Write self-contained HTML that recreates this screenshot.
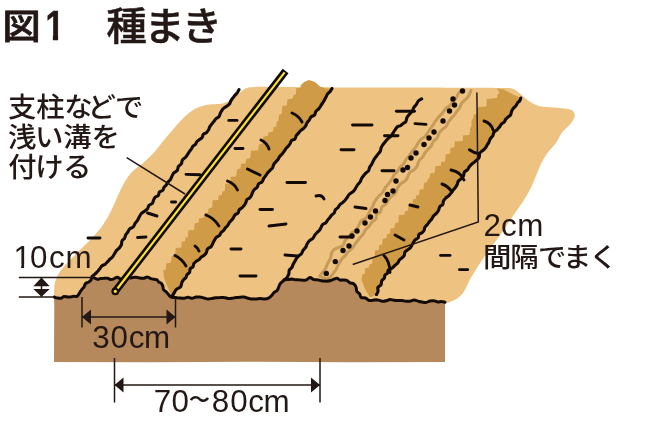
<!DOCTYPE html>
<html lang="ja">
<head>
<meta charset="utf-8">
<title>図1 種まき</title>
<style>
html,body{margin:0;padding:0;background:#fff;}
body{width:672px;height:444px;overflow:hidden;font-family:"Liberation Sans", "Noto Sans CJK JP", sans-serif;}
svg{display:block;will-change:transform;}
svg text{font-family:"Liberation Sans", "Noto Sans CJK JP", sans-serif;fill:#231815;}
</style>
</head>
<body>
<svg width="672" height="444" viewBox="0 0 672 444">
<defs><clipPath id="nf"><path clip-rule="evenodd" d="M0,0H672V444H0Z M45,34H52.9V41H45Z M58.1,34H65V41H58.1Z M14,264.6H21.2V269H14Z M24.1,264.6H30.5V269H24.1Z"/></clipPath></defs>
<path fill="#eec381" d="M243,90 C244.8,89.5 244.5,87.5 254,87 C263.5,86.5 275.7,87.1 300,87.2 C324.3,87.3 367.3,87.5 400,87.6 C432.7,87.7 477.3,87.8 496,88 C514.7,88.2 507.9,87.6 512,88.6 C516.1,89.6 517.6,91.9 520.4,94 C523.2,96.1 525.6,99 528.8,101 C531.9,103 534.8,104.9 539,106 C543.2,107.1 548.9,107 553.8,107.5 C558.6,108 564.7,108.3 568,109 C571.3,109.7 572.4,110.4 573.5,111.7 C574.6,113 575,115 574.5,117 C574,119 572.5,121.4 570.4,124 C568.3,126.6 564.4,129.3 562,132.5 C559.6,135.7 558.4,139.6 556,143 C553.6,146.4 549.8,149.8 547.5,153 C545.2,156.2 543.6,159 542,162 C540.4,165 539.7,167.1 538,171 C536.3,174.9 534.3,180.6 532,185.4 C529.7,190.2 526.8,195.5 524,200 C521.2,204.5 518.2,208.3 515.4,212.5 C512.6,216.7 509.9,220.7 507,225 C504.1,229.3 501.1,234 498,238.3 C494.9,242.6 491.5,246.6 488.5,250.8 C485.5,255 482.9,258.8 480,263.3 C477.1,267.8 473.4,273.5 470.8,278 C468.2,282.5 466.7,287.1 464.6,290.4 C462.5,293.7 460.7,295.8 458.3,297.7 C455.9,299.6 452.2,301.1 450,302 C447.8,302.9 445.7,302.8 444.8,303 L54,303 L54,298 C54,296.2 54.1,289.8 54.3,287 C54.5,284.2 54.6,283.3 55.4,281 C56.2,278.7 57.5,275.5 59,273 C60.5,270.5 62.2,268.7 64.5,266 C66.8,263.3 70,260.1 73,257 C76,253.9 79.3,250.7 82.5,247.5 C85.7,244.3 89.1,241.1 92,238 C94.9,234.9 97.7,232 100,229 C102.3,226 104.3,222.7 106,220 C107.7,217.3 108.3,216.3 110,213 C111.7,209.7 113.9,204.5 116,200 C118.1,195.5 120,190.5 122.5,186 C125,181.5 127.6,176.8 131,173 C134.4,169.2 139.2,166.4 143,163 C146.8,159.6 150.5,156.3 154,152.5 C157.5,148.7 161.3,143.2 164,140 C166.7,136.8 167.2,136.3 170,133 C172.8,129.7 177.2,124.2 181,120.4 C184.8,116.6 188.8,112.6 193,110 C197.2,107.4 201.1,106.1 206,105 C210.9,103.9 218.3,104.4 222.5,103.5 C226.7,102.6 227.6,101.8 231,99.6 C234.4,97.3 241,91.6 243,90 Z"/>
<path fill="#b5895c" d="M54.3,297 L61,297.7 L67.5,296.2 L73.8,297 L79,294.6 L82,289.4 L86,284 L90.4,280 L92.3,277.3 L97.3,278.8 L104,277.7 L110.7,279.7 L117.3,278 L125,279 L134,277.3 L140.7,278.8 L147.3,277.7 L154,279.3 L159,281.3 L162.3,286.3 L165.7,292 L170.7,296.7 L174.8,297.7 L184,298.3 L196,297.5 L208,298.5 L220,297.6 L232,298.6 L244,297.6 L256,298.6 L264,299.5 L271.5,296 L277,290.3 L280,283.8 L284.6,280 L292,279 L301.5,280.3 L310,278.3 L318.4,280 L327.8,281 L337,279 L346.5,281 L354,283.8 L356.8,291.3 L361.5,297 L369,299.7 L380,300.8 L390,300 L402,301.3 L414,300.6 L426,301.8 L438,301.2 L445,302.3 L445,362 L350,362.3 L250,361.8 L150,362.3 L54,362 Z"/>
<path fill="#cf9b47" d="M171.5,295.5 L167.3,286.3 L164,278 L163.2,270 L165.7,270 L166.3,263.5 L170.9,262.4 L171.7,256.2 L175.1,255.5 L175.7,247.9 L181.4,247.5 L181.7,241.8 L185.1,241.1 L185.4,237.8 L188,236.7 L188.2,230.3 L194.2,229.9 L194.5,223.5 L198.6,222.5 L198.9,218.6 L203.8,217.6 L204.6,213.3 L207.9,212.4 L208.7,208.4 L212.3,207.3 L212.6,200.3 L218.3,199.9 L218.5,195.7 L221.7,194.9 L222.3,191.7 L224.8,191.1 L225.2,184 L230.5,183.3 L230.7,176.8 L236.2,176.5 L236.9,169.4 L240.5,168.5 L241.1,163.8 L245.5,163.5 L246.3,159 L250.3,158.1 L251,150.8 L258.2,150.2 L258.9,144.4 L262.6,143.5 L263.3,136.8 L267.9,135.8 L268.3,132.4 L272.9,131.4 L273.6,126.9 L276.4,126.4 L276.7,121.5 L278.3,121.1 L279.1,114.4 L281.8,114 L282.3,105.9 L286.8,105.4 L287.4,99.3 L292.7,98.6 L293.5,95 L295.9,94.3 L296.2,88.3 L301.4,87.2 L300,86 L304,82 L309,80 L315,82 L320,86.5 L326,88.5 L332,88.5 L332,88.5 L321,106 L307,123 L288,146 L270,170 L255,190 L247.5,200 L237.5,212.5 L225,227.5 L215,240 L206,252.5 L196,261.3 L192.3,266.3 L187.3,274.7 L182.3,283 L177.3,289.7 L172.3,296.3 Z"/>
<path fill="#cf9b47" d="M370,297.5 L365.3,289.4 L361.5,280 L362.5,274 L364.7,274 L365.1,268.2 L369.1,267.2 L369.5,264.2 L372.1,263.8 L372.7,257.7 L374.6,257.1 L375,250.5 L378.8,250.1 L379,245.5 L382,244.4 L382.7,238.8 L386.4,237.9 L386.8,234.3 L390.1,233.5 L390.4,228.4 L394.5,228 L395.1,223.2 L398.5,222.2 L398.7,215.2 L404.6,214.5 L405.1,211.1 L408.1,210.7 L408.4,204.4 L412.7,203.4 L412.8,199.5 L415.8,198.8 L416,195.4 L419.1,194.4 L419.6,189.5 L423.6,189.2 L423.8,182.9 L427.2,181.9 L427.8,178.7 L429.4,178.3 L430.2,173.5 L434.5,173.1 L435.3,166.3 L440.9,165.5 L441.3,162.1 L445.3,161.3 L445.5,154.6 L450,153.6 L450.4,148 L454.5,146.9 L454.6,141.4 L462.7,140.9 L463,135.5 L469.4,134.9 L470,131.1 L470,130.1 L470.7,127 L471.4,126.3 L471.7,119.8 L473,119.1 L473.7,114.7 L477.4,114.1 L477.8,106.9 L486.4,106.4 L486.7,99.1 L496.8,98 L497.6,94.3 L499.1,93.5 L499.3,92.3 L498.9,91.7 L497,88.5 L503.8,89.5 L512,94 L520.8,98 L520.8,98 L516,105.4 L510,114.8 L501.7,124 L494.4,132.5 L489,142 L482,151 L476.7,159.6 L465,172.5 L452.5,190 L440,207 L427.5,225 L417.5,237.5 L407.5,250 L397.5,262.5 L388.7,270.6 L384,278 L378.4,287.5 L376.5,294.5 Z"/>
<path fill="none" stroke="#c69b5a" stroke-width="3" stroke-linecap="round" stroke-linejoin="round" d="M320,276 C320.4,275.4 321.5,273.5 322.4,272.4 C323.3,271.3 324.6,270.4 325.4,269.1 C326.1,267.9 326.4,266.3 326.9,265 C327.5,263.7 328.2,262.5 328.8,261.3 C329.5,260 330.3,258.9 330.8,257.6 C331.2,256.3 331,254.8 331.4,253.5 C331.9,252.3 332.3,251 333.4,250 C334.5,249 336.5,248.5 338.1,247.7 C339.7,247 341.7,246.6 342.9,245.5 C344,244.3 344.1,242.1 345,240.7 C345.9,239.4 347.4,238.5 348.4,237.2 C349.5,236 350.1,234.4 351.2,233.2 C352.4,232.1 354.2,231.6 355.5,230.4 C356.7,229.2 357.7,227.6 358.6,226.1 C359.5,224.5 359.8,222.4 361,221.1 C362.1,219.8 364.6,219.2 365.8,218.1 C367,216.9 367.5,215.6 368.3,214.3 C369,212.9 369.5,211.5 370.3,210.2 C371,208.9 372,207.7 372.7,206.4 C373.4,205 373.6,203.7 374.4,202.1 C375.3,200.5 376.6,198.5 378,196.9 C379.3,195.3 381.3,194.2 382.5,192.5 C383.8,190.9 384.4,188.9 385.6,187.2 C386.7,185.6 388.4,184 389.5,182.6 C390.6,181.2 391.3,180.2 392.1,178.8 C392.9,177.5 393.3,176 394.2,174.7 C395.1,173.5 396.5,172.6 397.4,171.3 C398.4,170.1 398.9,168.7 399.9,167.4 C400.9,166.2 402.5,165.2 403.5,163.9 C404.6,162.6 405.1,160.9 406,159.5 C407,158.1 408.2,157 409.2,155.7 C410.2,154.3 411,152.8 412,151.5 C413,150.2 414.3,149 415.3,147.7 C416.2,146.4 417,145 417.8,143.7 C418.7,142.4 419.4,140.9 420.5,139.7 C421.6,138.6 423.4,138 424.5,136.9 C425.7,135.8 426.5,134.4 427.4,133.1 C428.4,131.8 429.2,130.5 430.1,129.2 C431,127.9 431.9,126.7 432.8,125.3 C433.8,123.9 434.7,122.2 435.7,120.8 C436.8,119.3 437.9,118 439.1,116.6 C440.3,115.3 441.6,114.1 442.7,112.7 C443.8,111.4 444.6,109.7 445.9,108.4 C447.1,107.2 449.3,106.5 450.4,105.3 C451.5,104.1 451.7,102.4 452.6,101.3 C453.5,100.1 455.1,99.4 456.1,98.2 C457,97 457.2,95.3 458.1,94 C458.9,92.7 460.5,91.1 461,90.5"/>
<path fill="none" stroke="#c69b5a" stroke-width="3" stroke-linecap="round" stroke-linejoin="round" d="M329.6,278 C330.2,277.3 331.9,275.1 333.1,273.6 C334.2,272 335.3,270.6 336.3,268.9 C337.2,267.3 337.9,265.3 338.8,263.7 C339.8,262 340.9,260.2 342,258.8 C343.1,257.5 344.4,256.7 345.4,255.5 C346.4,254.4 347,252.9 348,251.7 C349.1,250.6 350.7,249.9 351.8,248.8 C352.9,247.6 353.6,246.2 354.5,245 C355.4,243.7 356.3,242.5 357.3,241.3 C358.2,240 359.1,238.8 360.1,237.6 C361.1,236.4 362.4,235.3 363.4,234 C364.3,232.6 364.7,230.8 365.7,229.5 C366.7,228.2 368.2,227.4 369.3,226.2 C370.3,224.9 370.9,223.3 372,222.1 C373,220.9 374.9,220.5 375.7,219.2 C376.5,217.9 376,215.8 376.8,214.5 C377.6,213.2 379.7,212.9 380.5,211.6 C381.4,210.4 380.9,208.3 381.8,207 C382.7,205.7 384.8,205.2 385.9,204 C387,202.8 387.5,201.1 388.5,199.8 C389.5,198.5 390.6,197.3 391.7,196.1 C392.9,195 394.6,194.3 395.5,192.9 C396.5,191.5 396.7,189.3 397.6,187.7 C398.5,186.2 399.6,184.8 401,183.6 C402.3,182.4 404.5,181.7 405.7,180.5 C406.8,179.3 407.2,177.7 407.9,176.3 C408.7,174.8 409.1,173.1 410.2,172 C411.3,170.8 413.3,170.4 414.5,169.3 C415.7,168.3 416.6,167 417.4,165.5 C418.1,164.1 418.1,162.1 419,160.8 C419.8,159.4 421.4,158.7 422.4,157.4 C423.3,156.1 423.8,154.5 424.8,153.1 C425.7,151.8 426.8,150.6 427.9,149.4 C429,148.2 430.4,147.2 431.3,145.9 C432.2,144.5 432.4,142.7 433.4,141.4 C434.4,140.1 436.2,139.4 437.1,138.1 C438,136.8 438.1,134.8 438.9,133.4 C439.7,132 440.8,130.7 442,129.6 C443.1,128.5 444.9,127.8 445.9,126.6 C446.9,125.4 447.3,123.7 448.2,122.4 C449,121 450.1,119.9 451.1,118.7 C452.1,117.4 453.3,116.4 454.3,115.1 C455.3,113.9 456.1,112.5 457,111.2 C458,109.9 459,108.8 459.8,107.4 C460.6,106 461,104.1 462,102.7 C463,101.4 464.7,100.5 465.9,99.2 C467.1,98 468.2,96.7 469,95.3 C469.9,93.8 470.7,91.3 471,90.5"/>
<path fill="none" stroke="#c69b5a" stroke-width="3" stroke-linecap="round" d="M320,276 Q324,279.5 329.6,278"/>
<g fill="#120a06"><circle cx="326.3" cy="273.4" r="2.7"/><circle cx="335.3" cy="261.6" r="2.7"/><circle cx="343" cy="250.5" r="2.7"/><circle cx="349" cy="246" r="2.7"/><circle cx="352" cy="236" r="2.7"/><circle cx="357" cy="231" r="2.7"/><circle cx="365" cy="223" r="2.7"/><circle cx="370.5" cy="217" r="2.7"/><circle cx="375.5" cy="211" r="2.7"/><circle cx="385" cy="200.5" r="2.7"/><circle cx="387.5" cy="194.5" r="2.7"/><circle cx="393" cy="191" r="2.7"/><circle cx="396" cy="181" r="2.7"/><circle cx="403" cy="170" r="2.7"/><circle cx="407.5" cy="167.5" r="2.7"/><circle cx="411" cy="158" r="2.7"/><circle cx="416" cy="153" r="2.7"/><circle cx="424" cy="144.5" r="2.7"/><circle cx="429" cy="138" r="2.7"/><circle cx="434" cy="132" r="2.7"/><circle cx="443" cy="121" r="2.7"/><circle cx="449.5" cy="111" r="2.7"/><circle cx="454.5" cy="105" r="2.7"/><circle cx="453" cy="99" r="2.7"/><circle cx="462.5" cy="91" r="2.7"/></g>
<path fill="none" stroke="#120a06" stroke-width="3.1" stroke-linecap="round" stroke-linejoin="round" d="M92.3,276.3 C92.8,275.9 94.2,274.8 95,274 C95.9,273.2 96.7,272.3 97.5,271.5 C98.3,270.6 99,269.7 99.8,268.8 C100.5,267.9 101,266.7 101.9,265.9 C102.8,265.2 104.2,264.9 105.2,264.2 C106.1,263.5 106.9,262.5 107.7,261.7 C108.5,260.9 109.1,260 109.9,259.2 C110.7,258.4 111.7,257.9 112.5,257 C113.3,256.1 113.9,254.7 114.6,253.5 C115.3,252.4 115.9,251.1 116.8,250.1 C117.7,249.1 119,248.3 119.8,247.4 C120.6,246.4 121.1,245.5 121.5,244.4 C121.8,243.3 121.5,241.9 122,240.9 C122.4,239.8 123.8,239.3 124.5,238.3 C125.1,237.3 125.2,235.9 125.7,234.8 C126.3,233.8 127.2,233 127.9,232 C128.5,231 128.8,229.7 129.7,228.9 C130.6,228.1 132.3,227.9 133.2,227 C134.1,226.1 134.3,224.7 135,223.6 C135.7,222.5 136.7,221.6 137.4,220.5 C138.1,219.5 138.5,218.3 139.2,217.1 C139.8,216 140.4,214.6 141.2,213.6 C142.1,212.7 143.4,212.1 144.5,211.3 C145.5,210.5 146.7,209.7 147.5,208.7 C148.3,207.8 148.2,206.3 149,205.4 C149.8,204.5 151.6,204.3 152.3,203.4 C153.1,202.5 153.1,200.9 153.6,199.9 C154.1,198.8 154.5,197.9 155.3,197.1 C156.1,196.4 157.6,196.2 158.3,195.4 C159,194.5 158.7,192.9 159.4,192.1 C160.1,191.3 161.8,191.3 162.6,190.5 C163.4,189.7 163.4,188.3 164,187.3 C164.6,186.4 165.6,185.7 166.3,184.9 C166.9,184 167.4,182.9 168.1,182 C168.8,181.1 169.7,180.6 170.4,179.6 C171,178.6 171.4,177.3 172,176.1 C172.6,175 173,173.8 173.9,172.8 C174.7,171.9 176.5,171.5 177.2,170.5 C178,169.5 177.7,167.9 178.3,166.7 C179,165.6 180.6,165 181.3,163.8 C182,162.7 181.7,161 182.5,159.9 C183.2,158.8 184.9,158.1 185.7,157.2 C186.6,156.3 187,155.4 187.6,154.4 C188.2,153.5 188.7,152.5 189.4,151.6 C190,150.7 190.8,149.9 191.4,149 C192,148 192.4,146.9 193.1,146.1 C193.8,145.3 194.9,145.1 195.5,144.3 C196.2,143.5 196.3,142.3 197,141.5 C197.7,140.7 198.7,140.2 199.6,139.5 C200.5,138.8 201.6,138.3 202.2,137.4 C202.8,136.5 202.7,135 203.5,134.2 C204.2,133.3 205.7,133.2 206.6,132.5 C207.4,131.8 208,130.8 208.6,129.8 C209.1,128.8 209.3,127.6 209.9,126.7 C210.4,125.7 211.1,124.8 211.8,124 C212.5,123.1 213.2,122.3 213.9,121.4 C214.6,120.6 215.1,119.5 216,118.7 C216.8,118 218.2,117.7 218.9,116.8 C219.7,115.9 219.7,114.6 220.2,113.5 C220.7,112.4 221.2,111.4 221.8,110.5 C222.5,109.5 223.2,108.7 224.1,107.9 C224.9,107.2 226.1,106.7 227.1,106 C228,105.4 228.9,104.7 229.6,103.8 C230.2,102.9 230.4,101.6 231,100.6 C231.6,99.6 232.3,98.7 233,97.8 C233.7,96.9 234.3,96 235.1,95.2 C235.8,94.3 236.7,93.5 237.4,92.6 C238,91.7 238.7,90.1 239,89.6"/>
<path fill="none" stroke="#120a06" stroke-width="3.1" stroke-linecap="round" stroke-linejoin="round" d="M172.3,296.3 C172.6,295.7 173.6,293.8 174.3,292.6 C175,291.4 175.6,290.1 176.6,289.2 C177.7,288.2 179.7,288 180.5,286.9 C181.4,285.8 181.4,283.8 181.8,282.7 C182.3,281.5 182.7,280.7 183.4,279.9 C184.1,279 185.3,278.5 185.9,277.6 C186.5,276.7 186.4,275.4 187.1,274.6 C187.7,273.7 189,273.2 189.6,272.3 C190.1,271.3 189.6,269.8 190.2,268.9 C190.8,267.9 192.4,267.6 193,266.8 C193.6,265.9 193.4,264.5 193.9,263.6 C194.4,262.7 195.3,262.1 196.1,261.4 C197,260.8 198.2,260.4 199,259.7 C199.9,259 200.4,257.9 201.2,257.2 C202.1,256.4 203.2,256 204,255.3 C204.8,254.5 205.7,253.8 206.3,252.7 C206.9,251.7 206.8,249.9 207.6,248.9 C208.4,247.9 210.2,247.6 211.1,246.7 C211.9,245.7 212.3,244.4 212.9,243.2 C213.5,242.1 214.1,240.8 214.7,239.8 C215.3,238.8 215.8,237.9 216.6,237.2 C217.4,236.4 218.7,236.2 219.5,235.4 C220.3,234.6 220.4,233.4 221.1,232.6 C221.8,231.8 222.9,231.3 223.6,230.5 C224.3,229.7 224.7,228.6 225.4,227.8 C226.1,227 227.1,226.4 227.7,225.5 C228.4,224.7 228.6,223.5 229.3,222.6 C229.9,221.7 230.8,221.1 231.5,220.2 C232.2,219.4 232.9,218.5 233.5,217.6 C234.1,216.7 234.3,215.5 235.1,214.7 C235.9,214 237.4,213.8 238.1,213 C238.8,212.2 238.6,210.7 239.2,209.8 C239.9,208.9 241.1,208.5 241.9,207.8 C242.7,207.1 243.5,206.4 244.1,205.5 C244.8,204.7 245.2,203.7 245.7,202.7 C246.2,201.7 246.3,200.4 247,199.6 C247.7,198.8 249.1,198.6 249.8,197.9 C250.6,197.1 251,196.1 251.5,195.2 C252,194.2 252.2,193.1 252.7,192.2 C253.1,191.2 253.6,190.3 254.4,189.5 C255.1,188.7 256.5,188.1 257.2,187.2 C257.9,186.2 257.8,184.7 258.6,183.8 C259.4,182.9 261.2,182.8 262,181.9 C262.9,181 263,179.6 263.6,178.6 C264.2,177.6 265,176.7 265.7,175.7 C266.4,174.8 267,173.7 267.7,172.8 C268.5,171.8 269.4,171 270.2,170.2 C271,169.3 272,168.7 272.6,167.8 C273.2,166.8 273.2,165.4 273.7,164.5 C274.3,163.5 275.1,162.7 275.8,161.9 C276.6,161 277.5,160.3 278.1,159.4 C278.8,158.5 279,157.3 279.7,156.4 C280.4,155.6 281.4,154.9 282.1,154.1 C282.9,153.3 283.4,152.3 284.1,151.4 C284.7,150.5 285.2,149.5 285.9,148.6 C286.6,147.7 287.5,147 288.2,146.2 C289,145.3 289.6,144.4 290.2,143.5 C290.7,142.5 290.8,141.2 291.7,140.4 C292.5,139.7 294.3,139.7 295,138.9 C295.8,138.1 295.7,136.6 296.2,135.6 C296.8,134.7 297.7,134 298.5,133.1 C299.2,132.3 299.7,131.3 300.5,130.6 C301.4,129.8 302.5,129.4 303.4,128.6 C304.2,127.9 304.9,127 305.5,126.1 C306.1,125.1 306.4,124 307,123 C307.6,122 308.5,121.1 309.2,120.1 C309.9,119 310.2,117.7 311.1,116.9 C312,116 313.8,115.9 314.5,115 C315.3,114 315.2,112.3 315.9,111.3 C316.6,110.3 317.9,109.8 318.7,108.9 C319.5,108 320.1,106.8 320.8,105.8 C321.4,104.8 322,103.9 322.6,102.9 C323.2,102 323.9,101 324.4,100 C325,99 325.5,98 326,97 C326.6,95.9 326.9,94.8 327.6,93.9 C328.3,93 329.5,92.3 330.2,91.5 C330.9,90.6 331.7,89 332,88.5"/>
<path fill="none" stroke="#120a06" stroke-width="3.1" stroke-linecap="round" stroke-linejoin="round" d="M284.6,280 C285,279.5 286.4,278.3 287.1,277.3 C287.8,276.3 288.4,275.3 288.8,274.1 C289.2,272.9 288.8,271.3 289.3,270.2 C289.8,269.1 291.2,268.5 291.8,267.5 C292.5,266.5 292.7,265.2 293.2,264.1 C293.8,263.1 294.5,262 295,261 C295.6,260 296,259 296.7,258.1 C297.3,257.3 298.1,256.5 298.9,255.8 C299.7,255.1 300.7,254.6 301.4,253.7 C302.1,252.8 302.5,251.3 303.2,250.2 C304,249.1 305.1,248.3 305.8,247.2 C306.4,246.1 306.6,244.6 307.3,243.5 C308,242.4 308.8,241.4 309.7,240.5 C310.7,239.7 312.1,239.2 313,238.2 C313.8,237.3 314.2,235.9 314.9,234.9 C315.6,234 316.3,233.3 317.1,232.5 C317.9,231.7 318.8,231.1 319.5,230.3 C320.1,229.4 320.5,228.3 321.1,227.3 C321.6,226.4 321.9,225.2 322.7,224.5 C323.5,223.7 325,223.6 325.8,222.8 C326.6,222.1 327,221 327.6,220.1 C328.3,219.2 329,218.5 329.7,217.7 C330.4,216.8 330.9,215.9 331.7,215.1 C332.4,214.4 333.6,213.9 334.2,213 C334.8,212.1 334.7,210.7 335.3,209.8 C335.9,209 337.1,208.6 337.8,207.8 C338.6,207 339,205.7 339.8,204.8 C340.6,204 341.7,203.4 342.6,202.6 C343.5,201.8 344.4,201.1 345.2,200.2 C346,199.3 346.6,198.2 347.3,197.3 C347.9,196.3 348.3,195.3 349.1,194.5 C349.9,193.7 350.9,193.2 351.8,192.5 C352.7,191.8 353.6,191.1 354.3,190.2 C355,189.4 355.5,188.3 356.1,187.3 C356.7,186.3 357.2,185.3 357.9,184.4 C358.6,183.5 359.6,182.8 360.2,181.8 C360.8,180.8 361,179.6 361.5,178.6 C362.1,177.5 362.8,176.7 363.5,175.8 C364.2,174.9 364.9,174 365.7,173.1 C366.6,172.3 367.8,171.8 368.5,170.9 C369.1,169.9 369.1,168.5 369.6,167.5 C370,166.4 370.8,165.6 371.4,164.6 C372,163.7 372.4,162.8 372.9,161.8 C373.4,160.8 373.8,159.8 374.4,158.9 C375,158 375.7,157.1 376.4,156.2 C377,155.4 377.7,154.5 378.4,153.6 C379.1,152.8 379.9,152 380.4,151 C380.8,150 380.8,148.7 381.2,147.7 C381.6,146.7 382.1,145.9 382.8,144.9 C383.5,143.9 384.4,142.8 385.2,141.8 C386,140.7 386.7,139.7 387.7,138.8 C388.6,137.9 389.9,137.3 390.8,136.3 C391.7,135.4 392.3,134.2 393,133.1 C393.7,132 394.3,130.9 395.1,129.9 C395.8,128.8 396.5,127.4 397.4,126.7 C398.3,126 399.7,126.1 400.7,125.6 C401.6,125.1 402.2,124.2 403.1,123.5 C403.9,122.8 405.1,122.6 405.8,121.6 C406.4,120.5 406.5,118.5 407.1,117.3 C407.8,116 409,114.9 409.9,113.8 C410.7,112.8 411.7,112 412.4,110.9 C413.1,109.8 413.2,108.4 413.9,107.4 C414.5,106.3 415.6,105.6 416.3,104.5 C417,103.5 417.4,101.9 418.3,101 C419.2,100.1 421.1,99.2 421.7,98.9"/>
<path fill="none" stroke="#120a06" stroke-width="3.1" stroke-linecap="round" stroke-linejoin="round" d="M376.5,294.5 C376.8,293.9 377.8,292.4 378,291.2 C378.3,290 377.4,288.3 377.9,287.3 C378.4,286.2 380.4,285.9 381,284.8 C381.7,283.7 381.1,282 381.7,280.9 C382.2,279.8 383.7,279.1 384.3,278.2 C384.8,277.2 384.4,275.9 384.9,275.1 C385.5,274.3 387,274.1 387.5,273.3 C388.1,272.5 387.5,271 388.2,270.2 C389,269.3 390.8,269 391.9,268.2 C393,267.4 393.8,266.4 394.8,265.5 C395.8,264.6 397.1,263.8 397.8,262.8 C398.6,261.9 398.7,260.8 399.4,259.9 C400.1,259.1 401.2,258.6 402,257.9 C402.8,257.2 403.7,256.5 404.2,255.5 C404.7,254.6 404.4,253 405,252.1 C405.5,251.1 406.7,250.7 407.5,250 C408.4,249.3 409.4,248.8 410.1,248 C410.9,247.2 411.3,246.2 411.8,245.3 C412.4,244.3 412.9,243.4 413.4,242.4 C414,241.5 414.4,240.5 415.2,239.8 C416,239 417.5,238.9 418.1,238 C418.8,237.1 418.3,235.4 418.9,234.5 C419.5,233.7 421,233.5 421.9,232.8 C422.7,232.1 423.5,231.3 424,230.4 C424.5,229.4 424.5,228 425,227.1 C425.6,226.2 426.5,225.7 427.2,224.8 C428,223.9 428.5,222.8 429.3,221.8 C430,220.8 431,220 431.7,219 C432.4,218.1 432.8,216.8 433.6,215.9 C434.3,214.9 435.6,214.3 436.4,213.4 C437.2,212.5 438,211.5 438.5,210.4 C439.1,209.3 439,207.8 439.7,206.8 C440.4,205.8 442,205.6 442.7,204.6 C443.3,203.6 443,202 443.5,200.9 C444,199.8 444.8,198.9 445.7,198.1 C446.5,197.2 447.7,196.7 448.6,195.8 C449.4,195 450.1,194.1 450.9,193.2 C451.6,192.2 452.2,191.3 453,190.3 C453.7,189.4 454.6,188.6 455.3,187.6 C456,186.6 456.7,185.6 457.2,184.5 C457.7,183.4 457.7,182 458.4,181 C459.1,180 460.3,179.4 461.2,178.6 C462,177.7 463,177 463.5,175.9 C464.1,174.8 463.8,173 464.4,172 C465.1,171.1 466.5,170.8 467.3,169.9 C468.1,169.1 468.5,167.9 469.2,166.9 C469.9,166 470.7,165.1 471.5,164.3 C472.4,163.5 473.4,162.9 474.3,162.2 C475.2,161.4 476.1,160.6 476.9,159.8 C477.8,159 478.7,158.2 479.2,157.2 C479.6,156.1 479.2,154.5 479.7,153.5 C480.1,152.5 481.1,151.8 482,151 C482.9,150.2 484.2,149.5 485,148.5 C485.9,147.6 486.4,146.4 487,145.3 C487.7,144.2 488.5,143.1 489,142 C489.6,140.9 489.8,139.6 490.4,138.6 C491,137.6 492.2,136.8 492.8,135.8 C493.4,134.7 493.3,133.2 494,132.3 C494.8,131.3 496.1,130.7 497,129.8 C497.9,129 498.7,128 499.5,127 C500.2,126 500.8,124.7 501.6,123.9 C502.3,123 503.5,122.8 504.2,122.1 C504.9,121.3 505.1,120.1 505.7,119.3 C506.3,118.5 507.1,117.8 507.9,117.1 C508.7,116.4 509.9,116.1 510.5,115.2 C511.1,114.2 511.1,112.6 511.6,111.4 C512.1,110.3 512.8,109.2 513.5,108.2 C514.3,107.2 515.4,106.4 516.1,105.5 C516.8,104.6 516.9,103.6 517.5,102.9 C518.1,102.1 519.2,101.6 519.8,100.8 C520.3,100 520.6,98.5 520.8,98"/>
<path fill="none" stroke="#120a06" stroke-width="3.0" stroke-linecap="round" stroke-linejoin="round" d="M54.3,297 C54.8,297.2 56.5,297.9 57.6,298.1 C58.7,298.3 59.9,298.5 61,298.3 C62.1,298 63.1,296.7 64.1,296.5 C65.2,296.3 66.5,296.8 67.5,296.9 C68.6,296.9 69.6,297 70.6,296.9 C71.6,296.7 72.6,296.3 73.6,296.2 C74.7,296.2 75.8,296.8 76.7,296.5 C77.5,296.2 78.1,295.1 78.7,294.3 C79.3,293.5 79.7,292.7 80.2,291.8 C80.7,291 81.2,290.2 81.9,289.3 C82.5,288.5 83.5,287.7 84.1,286.8 C84.7,285.8 84.8,284.3 85.5,283.6 C86.2,282.8 87.5,282.8 88.4,282.2 C89.3,281.7 90.2,281.2 90.8,280.4 C91.5,279.6 91.2,277.5 92.3,277.3 C93.4,277.1 95.8,279.1 97.2,279.3 C98.6,279.5 99.6,278.6 100.7,278.5 C101.8,278.3 102.8,278.3 104,278.3 C105.1,278.2 106.4,278 107.5,278.2 C108.6,278.4 109.6,279.4 110.7,279.5 C111.8,279.6 112.9,279.2 114,278.8 C115.1,278.4 116.1,277.2 117.3,277.3 C118.4,277.4 119.8,279 121,279.3 C122.3,279.6 123.9,279.5 125,279.2 C126.1,279 126.9,278 127.9,277.8 C128.9,277.6 130,278.1 131,278 C132,277.9 132.9,277.2 134,277.2 C135.1,277.1 136.3,277.4 137.5,277.5 C138.6,277.7 139.6,278.1 140.7,278.2 C141.8,278.3 142.9,278.4 144,278.2 C145.1,278 146.2,276.9 147.3,277 C148.4,277 149.5,278.2 150.6,278.6 C151.7,279 153,279.1 154,279.3 C155,279.5 156,279.3 156.7,279.7 C157.5,280.1 157.8,281.2 158.6,281.8 C159.3,282.4 160.6,282.7 161.3,283.4 C162,284.1 162.4,285 162.8,286 C163.1,287 163,288.5 163.5,289.4 C164.1,290.4 165.3,290.9 166.1,291.7 C166.9,292.5 167.5,293.4 168.3,294.3 C169.1,295.1 169.6,296.2 170.7,296.8 C171.7,297.3 173.6,297.4 174.8,297.6 C176,297.8 176.8,297.8 177.9,297.9 C178.9,298 179.9,298 180.9,298.1 C182,298.2 182.8,298.4 184,298.3 C185.2,298.1 186.6,297.3 187.9,297.3 C189.3,297.3 190.7,298.3 192,298.3 C193.4,298.3 194.7,297.3 196,297.1 C197.3,296.9 198.7,296.9 200.1,297.1 C201.4,297.2 202.7,297.7 204,298 C205.3,298.3 206.7,299 208,299 C209.3,299.1 210.7,298.6 212,298.4 C213.3,298.2 214.7,298 216,297.8 C217.3,297.7 218.7,297.6 220,297.6 C221.3,297.5 222.7,297.3 224,297.5 C225.4,297.6 226.7,298.3 228,298.5 C229.3,298.6 230.7,298.5 232,298.3 C233.3,298.2 234.6,297.7 235.9,297.5 C237.3,297.4 238.6,297.4 239.9,297.3 C241.3,297.2 242.7,296.8 244,296.9 C245.3,297.1 246.6,297.9 248,298.2 C249.3,298.6 250.6,298.8 251.9,298.9 C253.3,299 254.6,299.1 256,299 C257.3,299 258.7,298.6 260.1,298.6 C261.4,298.6 262.6,298.9 263.9,298.9 C265.2,298.9 266.8,299 268.1,298.4 C269.3,297.9 270.4,296.8 271.4,295.8 C272.3,294.9 272.9,293.7 273.8,292.8 C274.8,291.8 276.3,291.3 277.1,290.4 C277.9,289.4 278.2,288.2 278.7,287.1 C279.2,286 279.5,284.7 280.1,283.8 C280.6,283 281.5,282.5 282.2,281.8 C283,281.1 283.5,280.1 284.5,279.7 C285.5,279.3 287,279.6 288.3,279.5 C289.6,279.4 290.9,278.9 292,278.9 C293.1,279 294.1,279.6 295.1,279.7 C296.2,279.9 297.3,279.7 298.3,279.8 C299.4,279.8 300.2,280 301.5,280.1 C302.7,280.1 304.5,280.5 305.9,280.1 C307.4,279.7 308.6,277.7 310,277.6 C311.4,277.6 312.7,279.2 314.1,279.6 C315.5,279.9 317.2,279.6 318.4,279.9 C319.6,280.1 320.4,280.7 321.5,280.8 C322.5,281 323.6,281 324.6,281 C325.7,281.1 326.8,281.2 327.8,281.1 C328.9,281 329.9,280.8 330.9,280.5 C331.9,280.2 332.8,279.6 333.8,279.2 C334.9,278.8 336,278 337,278.2 C338,278.3 339,279.8 340.1,280.1 C341.1,280.4 342.3,279.9 343.4,279.9 C344.5,280 345.6,279.9 346.7,280.4 C347.8,280.9 348.9,282.3 350.1,282.9 C351.3,283.5 352.9,283.2 353.9,283.9 C354.9,284.6 355.7,286 356.1,287.3 C356.6,288.5 356.2,290.2 356.8,291.3 C357.3,292.4 358.9,292.8 359.6,293.8 C360.3,294.8 360.2,296.8 361.1,297.5 C362.1,298.2 364.1,297.5 365.4,298 C366.7,298.5 367.6,300 368.8,300.4 C370,300.8 371.4,300.4 372.6,300.3 C373.9,300.1 375.2,299.7 376.4,299.7 C377.6,299.8 378.8,300.4 380,300.6 C381.2,300.9 382.3,301.3 383.4,301.3 C384.5,301.3 385.6,300.9 386.7,300.6 C387.8,300.3 388.8,299.5 390,299.4 C391.2,299.3 392.7,300 394,300.2 C395.4,300.4 396.7,300.4 398,300.5 C399.4,300.6 400.7,300.5 402,300.6 C403.3,300.7 404.7,301.1 406,301.2 C407.3,301.3 408.7,301.3 410,301.2 C411.4,301 412.7,300.1 414,300.1 C415.3,300.1 416.7,300.8 418,301.1 C419.3,301.4 420.6,301.8 421.9,302 C423.3,302.2 424.6,302.6 426,302.5 C427.3,302.3 428.6,301.3 430,301 C431.3,300.7 432.6,300.5 434,300.7 C435.3,300.8 436.7,301.8 438,301.9 C439.2,302 440.4,301.4 441.5,301.5 C442.7,301.5 444.4,302.2 445,302.3"/>
<path fill="none" stroke="#120a06" stroke-width="2.9" stroke-linecap="round" d="M228.8,120.4 L237,120.4"/>
<path fill="none" stroke="#120a06" stroke-width="2.9" stroke-linecap="round" d="M235,148.5 L243,148.5"/>
<path fill="none" stroke="#120a06" stroke-width="2.9" stroke-linecap="round" d="M186,174.4 L200,174.8"/>
<path fill="none" stroke="#120a06" stroke-width="2.9" stroke-linecap="round" d="M260,209.5 L272.5,209.5"/>
<path fill="none" stroke="#120a06" stroke-width="2.9" stroke-linecap="round" d="M269,226 L286,224"/>
<path fill="none" stroke="#120a06" stroke-width="2.9" stroke-linecap="round" d="M285,255 L297.5,256"/>
<path fill="none" stroke="#120a06" stroke-width="2.9" stroke-linecap="round" d="M231,249 L241,249"/>
<path fill="none" stroke="#120a06" stroke-width="2.9" stroke-linecap="round" d="M240,276 L256,276"/>
<path fill="none" stroke="#120a06" stroke-width="2.9" stroke-linecap="round" d="M355,207 L366,208.5"/>
<path fill="none" stroke="#120a06" stroke-width="2.9" stroke-linecap="round" d="M340,237 L352.5,237"/>
<path fill="none" stroke="#120a06" stroke-width="2.9" stroke-linecap="round" d="M410,205 L418,207"/>
<path fill="none" stroke="#120a06" stroke-width="2.9" stroke-linecap="round" d="M440.6,255.4 L450,255.4"/>
<path fill="none" stroke="#120a06" stroke-width="2.9" stroke-linecap="round" d="M459.4,269.6 L467.7,269.6"/>
<path fill="none" stroke="#120a06" stroke-width="2.9" stroke-linecap="round" d="M396.4,111.2 L414.5,111.2"/>
<path fill="none" stroke="#120a06" stroke-width="2.9" stroke-linecap="round" d="M415,123.6 L426,124.4"/>
<path fill="none" stroke="#120a06" stroke-width="2.9" stroke-linecap="round" d="M384.5,135.8 L398,135.8"/>
<path fill="none" stroke="#120a06" stroke-width="2.9" stroke-linecap="round" d="M88,238 L100,238"/>
<path fill="none" stroke="#120a06" stroke-width="2.9" stroke-linecap="round" d="M352.5,125 L372,125"/>
<path fill="none" stroke="#120a06" stroke-width="2.9" stroke-linecap="round" d="M287,182.5 L305.5,182.5"/>
<path fill="none" stroke="#120a06" stroke-width="2.9" stroke-linecap="round" d="M341,149.7 L354,149.7"/>
<path fill="none" stroke="#120a06" stroke-width="2.9" stroke-linecap="round" d="M382,170.7 L394,170.7"/>
<path fill="none" stroke="#120a06" stroke-width="2.9" stroke-linecap="round" d="M147.5,213 L157,216"/>
<path fill="none" stroke="#120a06" stroke-width="2.9" stroke-linecap="round" d="M137.5,237.5 L146,237"/>
<path fill="none" stroke="#120a06" stroke-width="2.9" stroke-linecap="round" d="M171.5,202 L175.6,202"/>
<path fill="none" stroke="#120a06" stroke-width="2.9" stroke-linecap="round" d="M316,196 Q322,194 324,199"/>
<path fill="none" stroke="#120a06" stroke-width="2.9" stroke-linecap="round" d="M206,215 Q214,218 219,226"/>
<path fill="none" stroke="#120a06" stroke-width="2.9" stroke-linecap="round" d="M195,246 Q198,248 199,251"/>
<path fill="none" stroke="#120a06" stroke-width="2.9" stroke-linecap="round" d="M175,255.5 Q182,259 186,266"/>
<path fill="none" stroke="#120a06" stroke-width="2.9" stroke-linecap="round" d="M395,235 L404,240"/>
<path fill="none" stroke="#120a06" stroke-width="2.9" stroke-linecap="round" d="M384,255.6 Q390,262 390,272.5"/>
<path fill="none" stroke="#120a06" stroke-width="2.9" stroke-linecap="round" d="M484,121 Q491,123 493.3,130.4"/>
<path fill="none" stroke="#120a06" stroke-width="2.9" stroke-linecap="round" d="M469.4,149.8 Q474,153 477.7,153.3"/>
<path fill="none" stroke="#120a06" stroke-width="2.9" stroke-linecap="round" d="M451,170 Q461,172 464,180"/>
<path fill="none" stroke="#120a06" stroke-width="2.9" stroke-linecap="round" d="M442,184 Q448,186 452,192"/>
<path fill="none" stroke="#120a06" stroke-width="2.9" stroke-linecap="round" d="M292,113 Q299,116 302,122"/>
<path fill="none" stroke="#120a06" stroke-width="2.9" stroke-linecap="round" d="M261,140 Q267,143 269,149"/>
<path fill="none" stroke="#120a06" stroke-width="2.9" stroke-linecap="round" d="M247.5,169 L260,175"/>
<path fill="none" stroke="#120a06" stroke-width="2.9" stroke-linecap="round" d="M227.5,181 Q235,184 237.5,190"/>
<path fill="none" stroke="#120a06" stroke-width="7.4" stroke-linecap="butt" d="M115.3,291.3 L285.6,71"/>
<circle cx="115.3" cy="291.3" r="3.9" fill="#120a06"/>
<path fill="none" stroke="#ffe62e" stroke-width="2.1" stroke-linecap="butt" d="M117.5,288.5 L284.6,72.3"/>
<circle cx="115.3" cy="291.3" r="1.6" fill="#ffe62e"/>
<path fill="none" stroke="#231815" stroke-width="1.5" d="M126.7,157.7 L185,194"/>
<path fill="none" stroke="#231815" stroke-width="1.5" d="M476.9,92.5 L478.3,222 L352.7,264.5"/>
<path fill="none" stroke="#231815" stroke-width="1.5" d="M18.8,277.4 H93 M18.8,297 H54 M41.5,277.4 V297"/>
<path fill="#231815" d="M41.5,277.6 L49.7,286.2 H33.3 Z M41.5,296.8 L49.7,289 H33.3 Z"/>
<path fill="none" stroke="#231815" stroke-width="1.5" d="M82,297 V327.5 M175.5,298 V327.5 M82,317 H175.5"/>
<path fill="#231815" d="M82,317 L91,309.5 V324.5 Z M175.5,317 L166.5,309.5 V324.5 Z"/>
<path fill="none" stroke="#231815" stroke-width="1.5" d="M114.5,358 V402.5 M320,358 V402.5 M114.5,385 H320"/>
<path fill="#231815" d="M114.5,385 L123.5,377.5 V392.5 Z M320,385 L311,377.5 V392.5 Z"/>
<g clip-path="url(#nf)">
<text transform="translate(0,40.2) scale(1.06,1)" x="2.32 42.84 60.39 100.13 136.12 171.45" y="0" font-size="38.3" font-weight="500" stroke="#231815" stroke-width="0.5"><tspan font-size="35.2" textLength="36.04" lengthAdjust="spacingAndGlyphs" stroke="#231815" stroke-width="0.8" dy="-1.1">図</tspan><tspan font-size="41.8" font-weight="700" textLength="17.55" lengthAdjust="spacingAndGlyphs" stroke="#231815" stroke-width="0.5" dy="0.6">1</tspan><tspan dy="0.5">　</tspan>種まき</text>
<text transform="translate(0,267.9) scale(1.07,1.06)" x="12.57 28.07 45.71 61.2" y="0" font-size="29.3" font-weight="400">10cm</text>
</g>
<text transform="translate(0,117.4) scale(1.06,1)" x="7.64 34.32 60.52 82.59 108.45" y="0" font-size="26.8" font-weight="500">支柱などで</text>
<text transform="translate(0,147.4) scale(1.06,1)" x="7.54 33.14 59.7 86.23" y="0" font-size="26.8" font-weight="500">浅い溝を</text>
<text transform="translate(0,177.1) scale(1.06,1)" x="7.74 33.35 59.45" y="0" font-size="26.8" font-weight="500">付ける</text>
<text transform="translate(0,347.6) scale(1.07,1.06)" x="86.28 103.35 120.43 134.66" y="0" font-size="29.3" font-weight="400">30cm</text>
<text transform="translate(0,411.6) scale(1.07,1.06)" x="143.61 160.4 176.7 197.83 215.12 232.02 246.34" y="0" font-size="29.3" font-weight="400">70<tspan font-size="19.5" font-weight="700" dy="-4">～</tspan><tspan dy="4">8</tspan>0cm</text>
<text transform="translate(0,236.2) scale(1.07,1.06)" x="451.85 468.28 483.49" y="0" font-size="29.3" font-weight="400">2cm</text>
<text transform="translate(0,266.5) scale(1.06,1)" x="455.58 481.49 507.51 531.09 555.79" y="0" font-size="26.8" font-weight="500">間隔でまく</text>
</svg>
</body>
</html>
